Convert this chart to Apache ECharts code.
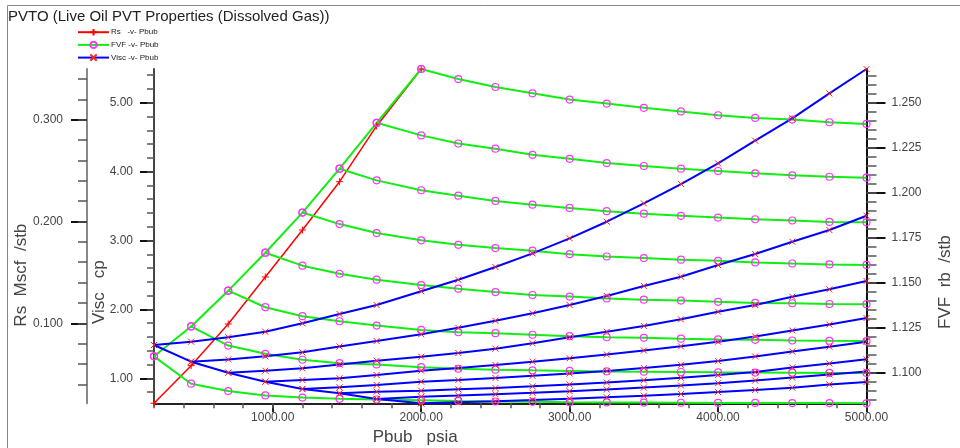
<!DOCTYPE html>
<html>
<head>
    <meta charset='utf-8'>
    <script src="https://cdn.jsdelivr.net/npm/echarts@6/dist/echarts.min.js"></script>
</head>
<body>
<style>
    html, body, #main {
        width: 100%;
        height: 100%;
        margin: 0;
        padding: 0;
        background: #fff;
    }
</style>
<div id="main"></div>
<script>

    // pressure grid (psia) used by every undersaturated curve
    var pressures = [200, 450, 700, 950, 1200, 1450, 1700, 2000, 2250, 2500, 2750,
        3000, 3250, 3500, 3750, 4000, 4250, 4500, 4750, 5000];

    // bubble point pressures and dissolved gas
    var pbub = [200, 450, 700, 950, 1200, 1450, 1700, 2000];
    var rs = [0.0213, 0.0583, 0.0993, 0.1455, 0.1917, 0.2392, 0.2940, 0.3500];

    // FVF (rb/stb), one curve per Pbub, starting at its Pbub
    var fvf1 = [1.1093, 1.0941, 1.0900, 1.0876, 1.0864, 1.0857, 1.0853, 1.0849, 1.0845, 1.0842,
        1.0840, 1.0838, 1.0837, 1.0836, 1.0835, 1.0834, 1.0834, 1.0833, 1.0833, 1.0832];
    var fvf2 = [1.1259, 1.1153, 1.1107, 1.1074, 1.1055, 1.1048, 1.1033, 1.1024, 1.1019, 1.1015,
        1.1012, 1.1009, 1.1008, 1.1006, 1.1004, 1.1003, 1.1002, 1.1001, 1.1000];
    var fvf3 = [1.1458, 1.1366, 1.1316, 1.1288, 1.1264, 1.1240, 1.1227, 1.1222, 1.1213, 1.1205,
        1.1199, 1.1196, 1.1191, 1.1187, 1.1185, 1.1181, 1.1179, 1.1178];
    var fvf4 = [1.1669, 1.1597, 1.1552, 1.1519, 1.1489, 1.1469, 1.1450, 1.1434, 1.1425, 1.1415,
        1.1408, 1.1403, 1.1396, 1.1390, 1.1388, 1.1384, 1.1383];
    var fvf5 = [1.1892, 1.1828, 1.1778, 1.1738, 1.1713, 1.1695, 1.1680, 1.1661, 1.1648, 1.1639,
        1.1630, 1.1624, 1.1615, 1.1609, 1.1604, 1.1601];
    var fvf6 = [1.2136, 1.2071, 1.2016, 1.1986, 1.1957, 1.1936, 1.1918, 1.1900, 1.1886, 1.1874,
        1.1864, 1.1855, 1.1848, 1.1840, 1.1838];
    var fvf7 = [1.2391, 1.2321, 1.2276, 1.2247, 1.2213, 1.2191, 1.2167, 1.2151, 1.2136, 1.2123,
        1.2110, 1.2099, 1.2091, 1.2086];
    var fvf8 = [1.2690, 1.2634, 1.2590, 1.2555, 1.2520, 1.2498, 1.2474, 1.2454, 1.2433, 1.2418,
        1.2409, 1.2394, 1.2385];

    // viscosity (cp), one curve per Pbub
    var visc1 = [1.483, 1.531, 1.595, 1.676, 1.798, 1.933, 2.064, 2.263, 2.430, 2.615,
        2.814, 3.032, 3.273, 3.540, 3.820, 4.120, 4.449, 4.774, 5.136, 5.490];
    var visc2 = [1.241, 1.273, 1.319, 1.377, 1.462, 1.541, 1.639, 1.733, 1.835, 1.943,
        2.064, 2.195, 2.340, 2.475, 2.644, 2.804, 2.983, 3.152, 3.360];
    var visc3 = [1.081, 1.110, 1.145, 1.200, 1.255, 1.313, 1.367, 1.430, 1.508, 1.595,
        1.676, 1.759, 1.856, 1.967, 2.064, 2.184, 2.292, 2.412];
    var visc4 = [0.951, 0.975, 1.000, 1.048, 1.110, 1.149, 1.193, 1.241, 1.290, 1.345,
        1.403, 1.464, 1.531, 1.607, 1.694, 1.781, 1.875];
    var visc5 = [0.845, 0.869, 0.903, 0.951, 0.975, 1.004, 1.036, 1.070, 1.106, 1.149,
        1.196, 1.251, 1.316, 1.389, 1.459, 1.531];
    var visc6 = [0.782, 0.806, 0.820, 0.840, 0.859, 0.884, 0.910, 0.939, 0.971, 1.007,
        1.048, 1.091, 1.157, 1.215, 1.276];
    var visc7 = [0.700, 0.733, 0.750, 0.769, 0.790, 0.813, 0.837, 0.865, 0.896, 0.929,
        0.967, 1.010, 1.055, 1.097];
    var visc8 = [0.637, 0.652, 0.668, 0.685, 0.704, 0.724, 0.747, 0.772, 0.800, 0.830,
        0.864, 0.910, 0.946];

    var fvfCurves = [fvf1, fvf2, fvf3, fvf4, fvf5, fvf6, fvf7, fvf8];
    var viscCurves = [visc1, visc2, visc3, visc4, visc5, visc6, visc7, visc8];

    // tick labels
    var xLabels = [1000, 2000, 3000, 4000, 5000];
    var rsLabels = [0.1, 0.2, 0.3];
    var viscLabels = [1, 2, 3, 4, 5];
    var fvfLabels = [1.100, 1.125, 1.150, 1.175, 1.200, 1.225, 1.250];

    function steps(from, to, step, dec) {
        var out = [];
        for (var v = from; v <= to + step / 2; v += step) {
            out.push(+v.toFixed(dec));
        }
        return out;
    }

    var xMinor = steps(200, 5000, 200, 0);
    var rsMinor = steps(0.04, 0.34, 0.02, 3);
    var viscMinor = steps(0.8, 5.4, 0.2, 1);
    var fvfMinor = steps(1.085, 1.265, 0.005, 3);

    var font = 'Liberation Sans';
    var RS_NAME = 'Rs   -v- Pbub';
    var FVF_NAME = 'FVF -v- Pbub';
    var VISC_NAME = 'Visc -v- Pbub';

    var X_MIN = 200, X_MAX = 5000;
    var RS_MIN = 0.0213, RS_MAX = 0.35;
    var VISC_MIN = 0.637, VISC_MAX = 5.49;
    var FVF_MIN = 1.0832, FVF_MAX = 1.2690;

    var crossPath = 'path://M5,0L5,10M1,5L9,5';
    var xPath = 'path://M0,0L10,10M10,0L0,10';

    function labelAxis(opt) {
        return Object.assign({
            type: 'value',
            splitLine: {show: false},
            nameMoveOverlap: false,
            axisLabel: {color: '#444', fontFamily: font, fontSize: 12},
            nameTextStyle: {color: '#444', fontFamily: font, fontSize: 17}
        }, opt);
    }

    function tickAxis(opt, values, len) {
        return Object.assign({
            type: 'value',
            splitLine: {show: false},
            axisLine: {show: false},
            axisLabel: {show: false},
            axisTick: {show: true, customValues: values, length: len,
                lineStyle: {color: '#555', width: 1.5}}
        }, opt);
    }

    var series = [];

    series.push({
        name: RS_NAME,
        type: 'line',
        yAxisIndex: 0,
        data: pbub.map(function (p, i) { return [p, rs[i]]; }),
        symbol: crossPath,
        symbolSize: 7,
        lineStyle: {color: '#ff0000', width: 1.5},
        itemStyle: {color: '#ff0000', borderColor: '#ff0000', borderWidth: 1}
    });

    var fvfStyle = {
        type: 'line',
        name: FVF_NAME,
        yAxisIndex: 2,
        symbol: 'circle',
        symbolSize: 7,
        lineStyle: {color: '#11ee11', width: 2},
        itemStyle: {color: 'rgba(0,0,0,0)', borderColor: '#ff33ff', borderWidth: 1.2}
    };

    series.push(Object.assign({}, fvfStyle, {
        data: fvfCurves.map(function (c, k) { return [pbub[k], c[0]]; })
    }));
    fvfCurves.forEach(function (c, k) {
        series.push(Object.assign({}, fvfStyle, {
            data: c.map(function (v, i) { return [pressures[k + i], v]; })
        }));
    });

    var viscStyle = {
        type: 'line',
        name: VISC_NAME,
        yAxisIndex: 1,
        symbol: xPath,
        symbolSize: 6,
        lineStyle: {color: '#0000ff', width: 2},
        itemStyle: {color: '#ff2020', borderColor: '#ff2020', borderWidth: 1}
    };

    series.push(Object.assign({}, viscStyle, {
        data: viscCurves.map(function (c, k) { return [pbub[k], c[0]]; })
    }));
    viscCurves.forEach(function (c, k) {
        series.push(Object.assign({}, viscStyle, {
            data: c.map(function (v, i) { return [pressures[k + i], v]; })
        }));
    });

    var chart = echarts.init(document.getElementById('main'));

    chart.setOption({
        animation: false,
        backgroundColor: '#fff',
        title: {
            text: 'PVTO (Live Oil PVT Properties (Dissolved Gas))',
            left: 8,
            top: 9,
            padding: 0,
            textStyle: {fontFamily: font, fontSize: 15, fontWeight: 'normal', color: '#222'}
        },
        legend: {
            orient: 'vertical',
            left: 77,
            top: 28,
            padding: 0,
            itemWidth: 31,
            itemHeight: 8,
            itemGap: 4.3,
            data: [RS_NAME, FVF_NAME, VISC_NAME],
            textStyle: {fontFamily: font, fontSize: 8, color: '#222', padding: [0, 0, 0, -3]}
        },
        graphic: [{
            type: 'rect',
            silent: true,
            shape: {x: 7.5, y: 5.5, width: 960, height: 460},
            style: {fill: 'none', stroke: '#888', lineWidth: 1}
        }],
        grid: {left: 154, top: 69, width: 712.5, height: 334.3, outerBoundsMode: 'none'},
        xAxis: [
            labelAxis({
                position: 'bottom',
                min: X_MIN, max: X_MAX,
                name: 'Pbub   psia',
                nameLocation: 'middle',
                nameGap: 26,
                nameTextStyle: {color: '#444', fontFamily: font, fontSize: 17, padding: [0, 190, 0, 0]},
                axisLine: {lineStyle: {color: '#222', width: 2}},
                axisTick: {customValues: xLabels, length: 9, lineStyle: {color: '#222', width: 2}},
                axisLabel: {customValues: xLabels, margin: 8, color: '#444', fontFamily: font, fontSize: 12,
                    formatter: function (v) { return v.toFixed(2); }}
            }),
            tickAxis({position: 'bottom', min: X_MIN, max: X_MAX}, xMinor, 5)
        ],
        yAxis: [
            labelAxis({
                position: 'left',
                offset: 67,
                min: RS_MIN, max: RS_MAX,
                name: 'Rs  Mscf  /stb',
                nameLocation: 'middle',
                nameRotate: 90,
                nameGap: 57,
                nameTextStyle: {color: '#444', fontFamily: font, fontSize: 17, padding: [0, 78, 0, 0]},
                axisLine: {show: true, lineStyle: {color: '#888', width: 2}},
                axisTick: {show: true, customValues: rsLabels, length: 16, lineStyle: {color: '#111', width: 2}},
                axisLabel: {customValues: rsLabels, margin: 24, color: '#444', fontFamily: font, fontSize: 12,
                    formatter: function (v) { return v.toFixed(3); }}
            }),
            labelAxis({
                position: 'left',
                offset: 0,
                min: VISC_MIN, max: VISC_MAX,
                name: 'Visc   cp',
                nameLocation: 'middle',
                nameRotate: 90,
                nameGap: 46,
                nameTextStyle: {color: '#444', fontFamily: font, fontSize: 17, padding: [0, 112, 0, 0]},
                axisLine: {show: true, lineStyle: {color: '#444', width: 2}},
                axisTick: {show: true, customValues: viscLabels, length: 14, lineStyle: {color: '#111', width: 2}},
                axisLabel: {customValues: viscLabels, margin: 21, color: '#444', fontFamily: font, fontSize: 12,
                    formatter: function (v) { return v.toFixed(2); }}
            }),
            labelAxis({
                position: 'right',
                offset: 0,
                min: FVF_MIN, max: FVF_MAX,
                name: 'FVF  rb  /stb',
                nameLocation: 'middle',
                nameRotate: 90,
                nameGap: 70,
                nameTextStyle: {color: '#444', fontFamily: font, fontSize: 17, padding: [0, 92, 0, 0]},
                axisLine: {show: true, lineStyle: {color: '#111', width: 2}},
                axisTick: {show: true, customValues: fvfLabels, length: 19, lineStyle: {color: '#111', width: 2}},
                axisLabel: {customValues: fvfLabels, margin: 25, color: '#444', fontFamily: font, fontSize: 12,
                    formatter: function (v) { return v.toFixed(3); }}
            }),
            tickAxis({position: 'left', offset: 67, min: RS_MIN, max: RS_MAX}, rsMinor, 9),
            tickAxis({position: 'left', offset: 0, min: VISC_MIN, max: VISC_MAX}, viscMinor, 7),
            tickAxis({position: 'right', offset: 0, min: FVF_MIN, max: FVF_MAX}, fvfMinor, 10)
        ],
        series: series
    });

</script>
</body>
</html>
